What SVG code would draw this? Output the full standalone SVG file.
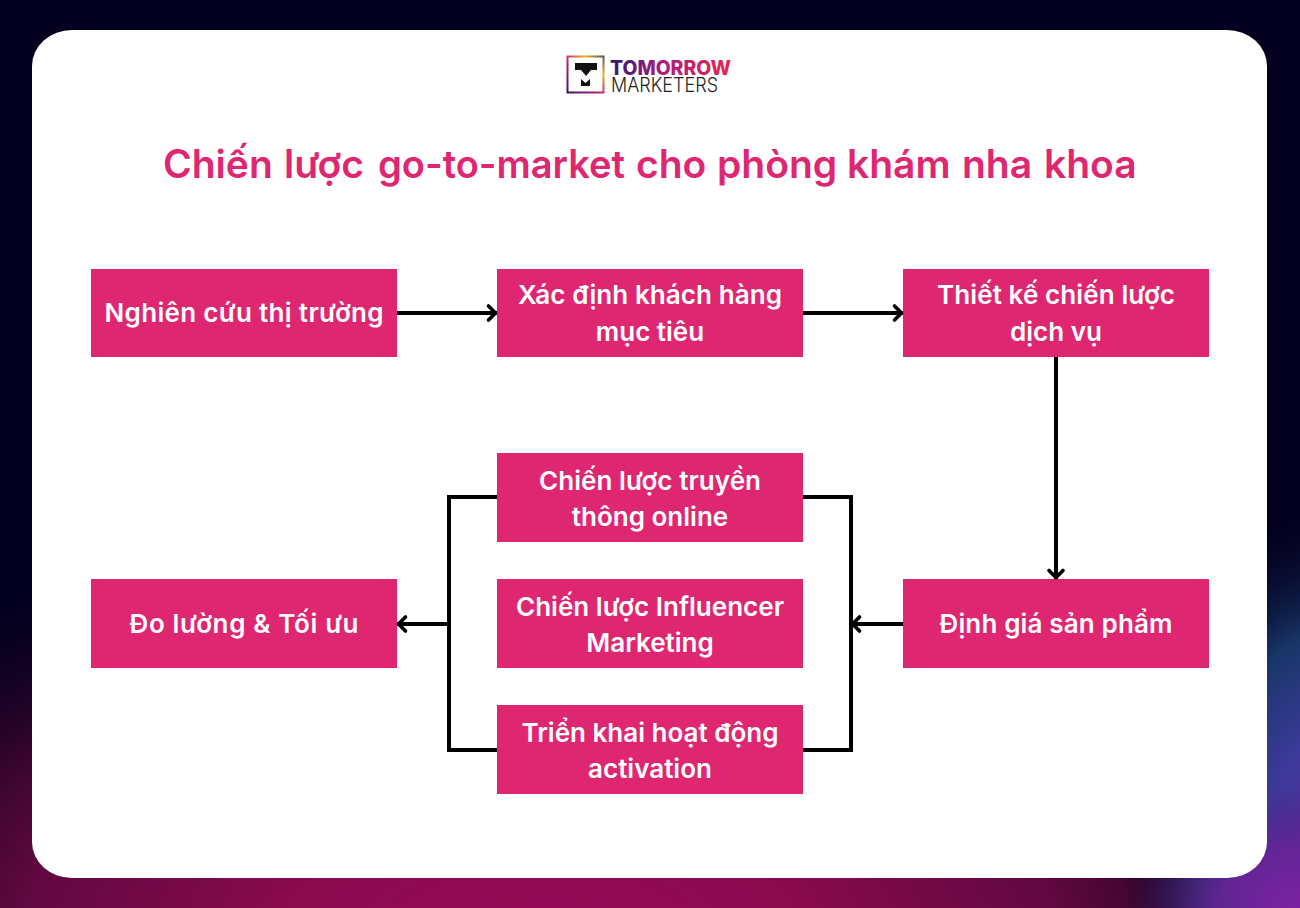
<svg xmlns="http://www.w3.org/2000/svg" width="1300" height="908" viewBox="0 0 1300 908">
<style>
.box{fill:#df2771}
.lbl{font-family:Inter,"Noto Sans",sans-serif;font-weight:600;font-size:26px;fill:#fff;text-anchor:middle}
.ttl{font-family:Inter,"Noto Sans",sans-serif;font-weight:600;font-size:39px;fill:#df2771}
.con{fill:none;stroke:#000;stroke-width:4}
.logo1{font-family:Inter,"Noto Sans",sans-serif;font-weight:800;font-size:20px}
.logo2{font-family:Inter,"Noto Sans",sans-serif;font-weight:300;font-size:20px;fill:#222}
</style>
<defs>
<radialGradient id="mag" gradientUnits="userSpaceOnUse" cx="0" cy="0" r="1" gradientTransform="translate(540 950) scale(870 460)">
<stop offset="0" stop-color="#98095a"/><stop offset=".3" stop-color="#8a0a4e"/><stop offset=".6" stop-color="#600840"/><stop offset=".72" stop-color="#40062f" stop-opacity=".9"/><stop offset="1" stop-color="#03001f" stop-opacity="0"/>
</radialGradient>
<radialGradient id="blu" gradientUnits="userSpaceOnUse" cx="0" cy="0" r="1" gradientTransform="translate(1330 840) scale(210 340)">
<stop offset="0" stop-color="#5a30a8"/><stop offset=".3" stop-color="#3c3a9a"/><stop offset=".6" stop-color="#183668"/><stop offset="1" stop-color="#03001f" stop-opacity="0"/>
</radialGradient>
<radialGradient id="pur" gradientUnits="userSpaceOnUse" cx="0" cy="0" r="1" gradientTransform="translate(1300 915) scale(170 130)">
<stop offset="0" stop-color="#8020a4"/><stop offset=".5" stop-color="#6a2296" stop-opacity=".85"/><stop offset="1" stop-color="#4a1a70" stop-opacity="0"/>
</radialGradient>
<linearGradient id="tm" gradientUnits="userSpaceOnUse" x1="610" y1="0" x2="731" y2="0">
<stop offset="0" stop-color="#2d1a6e"/><stop offset=".45" stop-color="#b01a80"/><stop offset="1" stop-color="#e5254e"/>
</linearGradient>
<linearGradient id="fr" gradientUnits="userSpaceOnUse" x1="567" y1="93" x2="603" y2="56">
<stop offset="0" stop-color="#30186e"/><stop offset=".45" stop-color="#c01e70"/><stop offset=".75" stop-color="#f5b020"/><stop offset="1" stop-color="#555"/>
</linearGradient>
<marker id="arr" markerUnits="userSpaceOnUse" markerWidth="20" markerHeight="20" refX="16" refY="10" orient="auto">
<path d="M7.500 3L14.500 10L7.500 17" fill="none" stroke="#000" stroke-width="3.600" stroke-linecap="round" stroke-linejoin="round"/>
</marker>
</defs>
<rect width="1300" height="908" fill="#03001f"/>
<rect width="1300" height="908" fill="url(#mag)"/>
<rect width="1300" height="908" fill="url(#blu)"/>
<rect width="1300" height="908" fill="url(#pur)"/>
<rect x="32" y="30" width="1235" height="848" rx="40" ry="36" fill="#fff"/>
<g id="logo">
<rect x="567.500" y="56.500" width="36" height="36" fill="none" stroke="url(#fr)" stroke-width="2"/>
<path d="M575 63H597V70H591L586 76L581 70H575Z" fill="#111"/>
<path d="M581 86V79L585.500 83L590 79V86Z" fill="#111"/>
<text class="logo1" x="610" y="75" fill="url(#tm)" textLength="121" lengthAdjust="spacingAndGlyphs">TOMORROW</text>
<text class="logo2" x="611" y="92" textLength="107" lengthAdjust="spacingAndGlyphs">MARKETERS</text>
</g>
<text id="title" class="ttl" y="178"><tspan x="163">Chiến</tspan> <tspan x="284">lược</tspan> <tspan x="378" textLength="247" lengthAdjust="spacingAndGlyphs">go-to-market</tspan> <tspan x="636">cho</tspan> <tspan x="717">phòng</tspan> <tspan x="847">khám</tspan> <tspan x="962">nha</tspan> <tspan x="1044">khoa</tspan></text>
<g id="n1"><rect class="box" x="91" y="269" width="306" height="88"/><text class="lbl" x="244" y="322" textLength="279">Nghiên cứu thị trường</text></g>
<g id="n2"><rect class="box" x="497" y="269" width="306" height="88"/><text class="lbl" x="650" y="304" textLength="264">Xác định khách hàng</text><text class="lbl" x="650" y="341">mục tiêu</text></g>
<g id="n3"><rect class="box" x="903" y="269" width="306" height="88"/><text class="lbl" x="1056" y="304" textLength="238">Thiết kế chiến lược</text><text class="lbl" x="1056" y="341">dịch vụ</text></g>
<g id="n4"><rect class="box" x="903" y="579" width="306" height="89"/><text class="lbl" x="1056" y="633" textLength="233">Định giá sản phẩm</text></g>
<g id="n5"><rect class="box" x="497" y="453" width="306" height="89"/><text class="lbl" x="650" y="490" textLength="222">Chiến lược truyền</text><text class="lbl" x="650" y="526">thông online</text></g>
<g id="n6"><rect class="box" x="497" y="579" width="306" height="89"/><text class="lbl" x="650" y="616" textLength="268">Chiến lược Influencer</text><text class="lbl" x="650" y="652">Marketing</text></g>
<g id="n7"><rect class="box" x="497" y="705" width="306" height="89"/><text class="lbl" x="650" y="742">Triển khai hoạt động</text><text class="lbl" x="650" y="778">activation</text></g>
<g id="n8"><rect class="box" x="91" y="579" width="306" height="89"/><text class="lbl" x="244" y="633" textLength="229">Đo lường &amp; Tối ưu</text></g>
<g id="connectors" class="con">
<path d="M397 313H497" marker-end="url(#arr)"/>
<path d="M803 313H903" marker-end="url(#arr)"/>
<path d="M1056 357V579" marker-end="url(#arr)"/>
<path d="M903 624H851" marker-end="url(#arr)"/>
<path d="M803 497H851V750H803"/>
<path d="M497 497H449V750H497"/>
<path d="M449 624H397" marker-end="url(#arr)"/>
</g>
</svg>
